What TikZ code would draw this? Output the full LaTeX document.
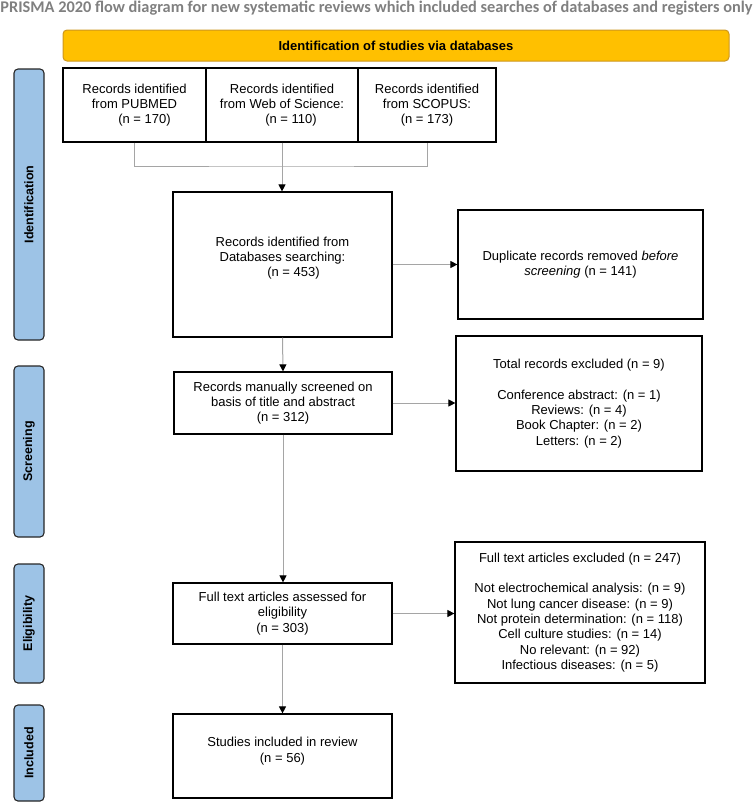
\documentclass[tikz,border=0pt]{standalone}
\usepackage{fontspec}
\usepackage{graphicx}
\setmainfont{Liberation Sans}
\newfontfamily\titlefont{Carlito}
\usetikzlibrary{arrows.meta}
\definecolor{titlegray}{RGB}{128,128,128}
\definecolor{bannerfill}{RGB}{255,192,0}
\definecolor{bannerdraw}{RGB}{205,150,30}
\definecolor{labelblue}{RGB}{157,195,230}
\definecolor{conngray}{RGB}{165,165,165}
\begin{document}
\begin{tikzpicture}[x=1pt,y=-1pt,
  box/.style={draw=black, line width=1.2pt, fill=white, inner sep=2pt, align=center,
    font=\fontsize{13}{15.3}\selectfont},
  lab/.style={draw=black!85, line width=1.1pt, fill=labelblue, rounded corners=4pt,
    rotate=90, minimum height=30pt, inner sep=0pt,
    font=\bfseries\fontsize{12.5}{14}\selectfont},
  banner/.style={draw=bannerdraw, line width=1pt, fill=bannerfill, rounded corners=4pt,
    minimum width=666pt, minimum height=31pt, inner sep=0pt,
    font=\bfseries\fontsize{13}{15}\selectfont},
  conn/.style={draw=conngray, line width=1pt},
  arr/.style={conn, -{Triangle[length=7pt,width=7pt,color=black,fill=black]}},
]
\useasboundingbox (0,0) rectangle (754,804);

% title
\node[anchor=base, inner sep=0pt, text=titlegray] (title) at (376.5,12.5)
  {\resizebox{752pt}{!}{\titlefont\bfseries PRISMA 2020 flow diagram for new systematic reviews which included searches of databases and registers only}};

% banner
\node[banner] (banner) at (396,45.5) {Identification of studies via databases};

% side labels
\node[lab, minimum width=271pt] (lid) at (29,204.5) {Identification};
\node[lab, minimum width=171pt] (lscr) at (29,451.5) {Screening};
\node[lab, minimum width=119pt] (lelig) at (29,623.5) {Eligibility};
\node[lab, minimum width=96pt] (linc) at (29,753) {Included};

% top boxes
\node[box, minimum width=143pt, minimum height=74pt] (b1) at (134.5,105)
  {Records identified\\ from PUBMED\\ \hspace*{20pt}(n = 170)};
\node[box, minimum width=152pt, minimum height=74pt] (b2) at (282,105)
  {Records identified\\ from Web of Science:\\ \hspace*{18pt}(n = 110)};
\node[box, minimum width=138pt, minimum height=74pt] (b3) at (427,105)
  {Records identified\\ from SCOPUS:\\ (n = 173)};

% main boxes
\node[box, minimum width=219pt, minimum height=145pt] (db) at (282.5,264.5)
  {Records identified from\\ Databases searching:\\ \hspace*{22pt}(n = 453)\\ ~};
\node[box, minimum width=245pt, minimum height=109pt] (dup) at (580.5,264.5)
  {Duplicate records removed \textit{before}\\ \textit{screening} (n = 141)};
\node[box, minimum width=218pt, minimum height=62pt] (scr) at (283,403)
  {Records manually screened on\\ basis of title and abstract\\ (n = 312)};
\node[box, minimum width=246pt, minimum height=135pt] (exc) at (579,403.5)
  {Total records excluded (n = 9)\\[15.3pt] Conference abstract: (n = 1)\\ Reviews: (n = 4)\\ Book Chapter: (n = 2)\\ Letters: (n = 2)};
\node[box, minimum width=219pt, minimum height=61pt] (elig) at (282.5,613.5)
  {Full text articles assessed for\\ eligibility\\ (n = 303)};
\node[box, minimum width=250pt, minimum height=141pt] (fexc) at (580,612.5)
  {Full text articles excluded (n = 247)\\[15.3pt] Not electrochemical analysis: (n = 9)\\ Not lung cancer disease: (n = 9)\\ Not protein determination: (n = 118)\\ Cell culture studies: (n = 14)\\ No relevant: (n = 92)\\ Infectious diseases: (n = 5)};
\node[box, minimum width=219pt, minimum height=84pt] (inc) at (282.5,756)
  {Studies included in review\\ (n = 56)\\[-3pt] ~};

% connectors
\coordinate (join) at (282,166);
\draw[conn] (b1.south) |- (join) -| (b3.south);
\draw[arr] (b2.south) -- (b2.south |- db.north);
\draw[arr] (db.east) -- (dup.west);
\draw[arr] (db.south) -- (scr.north);
\draw[arr] (scr.east) -- (scr.east -| exc.west);
\draw[arr] (scr.south) -- (scr.south |- elig.north);
\draw[arr] (elig.east) -- (elig.east -| fexc.west);
\draw[arr] (elig.south) -- (inc.north);
\end{tikzpicture}
\end{document}
